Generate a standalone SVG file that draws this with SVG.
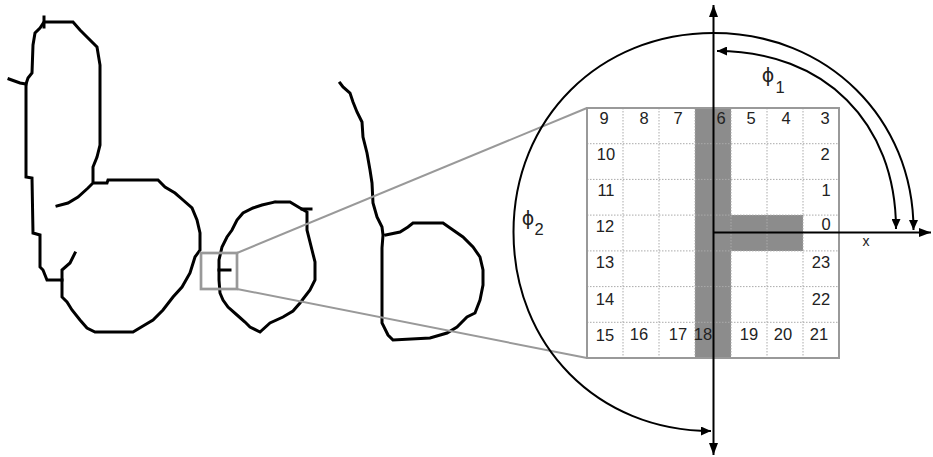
<svg xmlns="http://www.w3.org/2000/svg" width="933" height="457" viewBox="0 0 933 457">
<style>
.ink{fill:none;stroke:#000;stroke-width:3;stroke-linejoin:miter;stroke-linecap:square}
.zoom{fill:none;stroke:#999;stroke-width:2}
.dot{stroke:#aaa;stroke-width:1;stroke-dasharray:1.5 1.5}
.shade{fill:#8c8c8c}
.num{font-family:"Liberation Sans",Arial,sans-serif;font-size:16.5px;fill:#222;text-anchor:middle}
.lbl{font-family:"DejaVu Sans","Liberation Sans",sans-serif;font-size:19px;fill:#222;text-anchor:middle}
.sub{font-family:"Liberation Sans",Arial,sans-serif;font-size:16.5px;fill:#222;text-anchor:middle}
.arc{fill:none;stroke:#000;stroke-width:2}
</style>
<defs>
<marker id="ah" markerUnits="userSpaceOnUse" markerWidth="11" markerHeight="9" refX="10" refY="4.5" orient="auto-start-reverse">
<path d="M0,0 L10,4.5 L0,9 Z" fill="#000"/>
</marker>
<marker id="axh" markerUnits="userSpaceOnUse" markerWidth="13" markerHeight="9" refX="12" refY="4.5" orient="auto-start-reverse">
<path d="M0,0 L12,4.5 L0,9 Z" fill="#000"/>
</marker>
</defs>

<g id="handwriting">
<polyline class="ink" points="57,206 68,203 78,197 88,188 93,183 93,167 97,157 100,145 100,65 97,47 88,38 80,30 73,22 44,22 40,28 35,33 33,45 32,73 28,78 26,84 26,177 32,178 33,233 40,235 40,267 43,270 47,280 62,280 62,297 67,302 72,310 80,320 87,328 95,332 133,332 143,326 153,320 163,310 173,297 182,287 190,273 195,257 200,250 200,233 197,220 192,208 183,200 175,193 165,187 158,180 108,180 107,183 93,183"/>
<polyline class="ink" points="9,79 20,83 26,84"/>
<line class="ink" x1="44" y1="17" x2="44" y2="27"/>
<polyline class="ink" points="62,280 62,270 70,263 75,253"/>
<polyline class="ink" points="275,202 290,202 300,208 307,212 307,230 312,250 315,262 315,280 310,290 300,303 293,311 283,317 270,323 260,332 250,327 245,322 237,315 228,307 223,300 220,293 219,280 219,260 222,247 227,237 232,230 237,220 243,213 253,208 262,205 275,202"/>
<line class="ink" x1="302" y1="209" x2="311" y2="209"/>
<line class="ink" x1="219" y1="270" x2="230" y2="270"/>
<polyline class="ink" points="340,83 343,87 350,93 353,102 357,112 362,122 363,137 367,153 370,170 372,183 373,203 377,217 382,227 383,235 382,248 382,323 388,335 393,340 430,338 447,333 457,327 467,317 475,313 480,300 483,285 483,270 480,257 473,247 463,237 453,230 443,223 413,223 408,227 400,232 386,235"/>
</g>

<g id="zoom-box">
<rect class="zoom" x="201" y="253" width="36" height="36" style="stroke-width:2.7"/>
<line class="zoom" x1="237" y1="253" x2="587" y2="108"/>
<line class="zoom" x1="237" y1="289" x2="587" y2="358"/>
</g>

<g id="grid">
<rect x="587" y="108" width="252" height="250" fill="#fff"/>
<rect class="shade" x="695" y="108" width="36" height="250"/>
<rect class="shade" x="731" y="215" width="72" height="36"/>
<g class="dot">
<line x1="623" y1="108" x2="623" y2="358"/>
<line x1="659" y1="108" x2="659" y2="358"/>
<line x1="695" y1="108" x2="695" y2="358"/>
<line x1="731" y1="108" x2="731" y2="358"/>
<line x1="767" y1="108" x2="767" y2="358"/>
<line x1="803" y1="108" x2="803" y2="358"/>
<line x1="587" y1="143.7" x2="839" y2="143.7"/>
<line x1="587" y1="179.4" x2="839" y2="179.4"/>
<line x1="587" y1="215.1" x2="839" y2="215.1"/>
<line x1="587" y1="250.9" x2="839" y2="250.9"/>
<line x1="587" y1="286.6" x2="839" y2="286.6"/>
<line x1="587" y1="322.3" x2="839" y2="322.3"/>
</g>
<rect class="zoom" x="587" y="108" width="252" height="250"/>
<g class="num">
<text x="604" y="124">9</text><text x="644" y="124">8</text><text x="678" y="124">7</text><text x="721" y="124">6</text><text x="751" y="124">5</text><text x="786" y="124">4</text><text x="825" y="124">3</text>
<text x="606" y="160">10</text><text x="825" y="160">2</text>
<text x="606" y="196">11</text><text x="826" y="196">1</text>
<text x="605" y="232">12</text><text x="826" y="230">0</text>
<text x="605" y="268">13</text><text x="821" y="268">23</text>
<text x="605" y="305">14</text><text x="821" y="305">22</text>
<text x="605" y="341">15</text><text x="639" y="340">16</text><text x="678" y="340">17</text><text x="703" y="340">18</text><text x="749" y="340">19</text><text x="783" y="340">20</text><text x="819" y="340">21</text>
</g>
</g>

<g id="connectors">
<line class="arc" x1="713.5" y1="455" x2="713.5" y2="5" marker-start="url(#axh)" marker-end="url(#axh)"/>
<line class="arc" x1="713.5" y1="232.5" x2="931" y2="232.5" marker-end="url(#axh)"/>
<path class="arc" d="M913.5,230 C913.5,118.6 827.5,33 713.5,33 C599.5,33 513.5,118.6 513.5,232 C513.5,345.4 597.5,431 711,431" marker-start="url(#ah)" marker-end="url(#ah)"/>
<path class="arc" d="M717,51 C824.4,51 896,122.2 896,229" marker-start="url(#ah)" marker-end="url(#ah)"/>
</g>

<g id="labels">
<text class="lbl" x="768" y="82">ϕ</text><text class="sub" x="780" y="93">1</text>
<text class="lbl" x="528" y="225">ϕ</text><text class="sub" x="539" y="235">2</text>
<text class="sub" x="866" y="246" style="font-size:14px">x</text>
</g>
</svg>
